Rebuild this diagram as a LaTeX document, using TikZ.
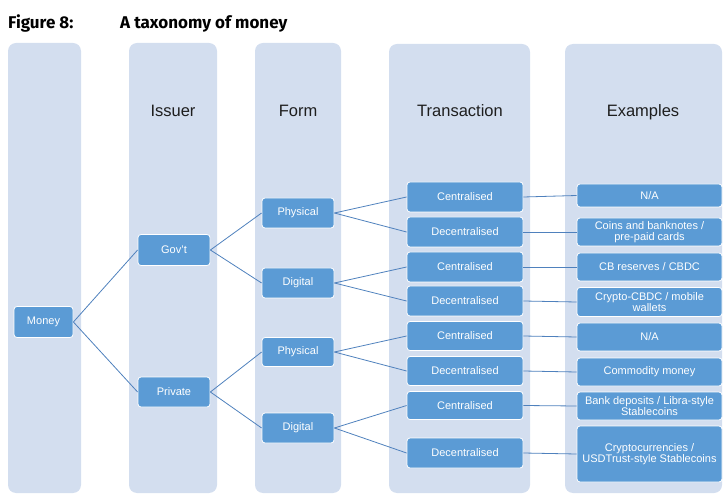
\documentclass[tikz,border=0pt]{standalone}
\usepackage{fontspec}
\setmainfont{Liberation Sans}
\newfontfamily\titlefont{Fira Sans}
\usetikzlibrary{positioning}
\definecolor{lane}{RGB}{211,222,239}
\definecolor{boxblue}{RGB}{91,155,213}
\definecolor{linkblue}{RGB}{79,129,189}
\definecolor{ink}{RGB}{30,30,30}

\begin{document}
\begin{tikzpicture}[x=1pt, y=-1pt,
    lane/.style={fill=lane, rounded corners=8pt},
    head/.style={anchor=base, text=ink, font=\fontsize{16.5}{18}\selectfont},
    box/.style={draw=white, line width=0.8pt, fill=boxblue, rounded corners=3pt,
        text=white, font=\fontsize{11}{11.5}\selectfont, align=center,
        inner sep=0pt, minimum height=30pt},
    tree/.style={draw=linkblue, line width=0.8pt}]
    \useasboundingbox (0,0) rectangle (723,494);

    % Title
    \node[anchor=base west, inner sep=0pt, font=\titlefont\bfseries\fontsize{17}{19}\selectfont] (fig) at (8,29) {Figure 8:};
    \node[anchor=base west, inner sep=0pt, font=\titlefont\bfseries\fontsize{17}{19}\selectfont] (title) at (120,29) {A taxonomy of money};

    % Columns
    \fill[lane] (8,43) rectangle (81,493);
    \fill[lane] (129,43) rectangle (217,493);
    \fill[lane] (255,43) rectangle (341,493);
    \fill[lane] (389,44) rectangle (530,493);
    \fill[lane] (565,44) rectangle (722,493);

    % Headers
    \node[head] (issuer) at (173,117) {Issuer};
    \node[head] (form) at (298,117) {Form};
    \node[head] (trans) at (460,117) {Transaction};
    \node[head] (examples) at (643,117) {Examples};

    % Money, issuer and form
    \node[box, minimum width=59pt, minimum height=31pt] (money) at (43.5,322) {Money};
    \node[box, minimum width=72pt, minimum height=31pt] (gov) at (174,250) {Gov't};
    \node[box, minimum width=72pt] (priv) at (174,392) {Private};
    \node[box, minimum width=72pt] (phys1) at (298,213) {Physical};
    \node[box, minimum width=72pt] (dig1) at (298,283) {Digital};
    \node[box, minimum width=72pt, minimum height=29pt] (phys2) at (298,352) {Physical};
    \node[box, minimum width=72pt] (dig2) at (298,428) {Digital};

    % Transaction
    \node[box, minimum width=116pt] (tc1) at (465,197) {Centralised};
    \node[box, minimum width=116pt] (td1) at (465,232) {Decentralised};
    \node[box, minimum width=116pt] (tc2) at (465,267) {Centralised};
    \node[box, minimum width=116pt] (td2) at (465,301) {Decentralised};
    \node[box, minimum width=116pt, minimum height=29pt] (tc3) at (465,336) {Centralised};
    \node[box, minimum width=116pt, minimum height=29pt] (td3) at (465,371) {Decentralised};
    \node[box, minimum width=116pt, minimum height=28pt] (tc4) at (465,405.5) {Centralised};
    \node[box, minimum width=116pt] (td4) at (465,453) {Decentralised};

    % Examples
    \node[box, minimum width=145pt, minimum height=23pt] (ex1) at (649.5,195.5) {N/A};
    \node[box, minimum width=145pt, minimum height=28pt] (ex2) at (649.5,232) {Coins and banknotes /\\pre-paid cards};
    \node[box, minimum width=145pt, minimum height=28pt] (ex3) at (649.5,267) {CB reserves / CBDC};
    \node[box, minimum width=145pt, minimum height=29pt] (ex4) at (649.5,302) {Crypto-CBDC / mobile\\wallets};
    \node[box, minimum width=145pt, minimum height=28pt] (ex5) at (649.5,337) {N/A};
    \node[box, minimum width=145pt, minimum height=28pt] (ex6) at (649.5,372) {Commodity money};
    \node[box, minimum width=145pt, minimum height=28pt] (ex7) at (649.5,406) {Bank deposits / Libra-style\\Stablecoins};
    \node[box, minimum width=145pt, minimum height=56pt] (ex8) at (649.5,454) {Cryptocurrencies /\\USDTrust-style Stablecoins};

    % Links
    \draw[tree] (money.east) -- (gov.west);
    \draw[tree] (money.east) -- (priv.west);
    \draw[tree] (gov.east) -- (phys1.west);
    \draw[tree] (gov.east) -- (dig1.west);
    \draw[tree] (priv.east) -- (phys2.west);
    \draw[tree] (priv.east) -- (dig2.west);
    \draw[tree] (phys1.east) -- (tc1.west);
    \draw[tree] (phys1.east) -- (td1.west);
    \draw[tree] (dig1.east) -- (tc2.west);
    \draw[tree] (dig1.east) -- (td2.west);
    \draw[tree] (phys2.east) -- (tc3.west);
    \draw[tree] (phys2.east) -- (td3.west);
    \draw[tree] (dig2.east) -- (tc4.west);
    \draw[tree] (dig2.east) -- (td4.west);
    \draw[tree] (tc1.east) -- (ex1.west);
    \draw[tree] (td1.east) -- (ex2.west);
    \draw[tree] (tc2.east) -- (ex3.west);
    \draw[tree] (td2.east) -- (ex4.west);
    \draw[tree] (tc3.east) -- (ex5.west);
    \draw[tree] (td3.east) -- (ex6.west);
    \draw[tree] (tc4.east) -- (ex7.west);
    \draw[tree] (td4.east) -- (ex8.west);
\end{tikzpicture}
\end{document}
